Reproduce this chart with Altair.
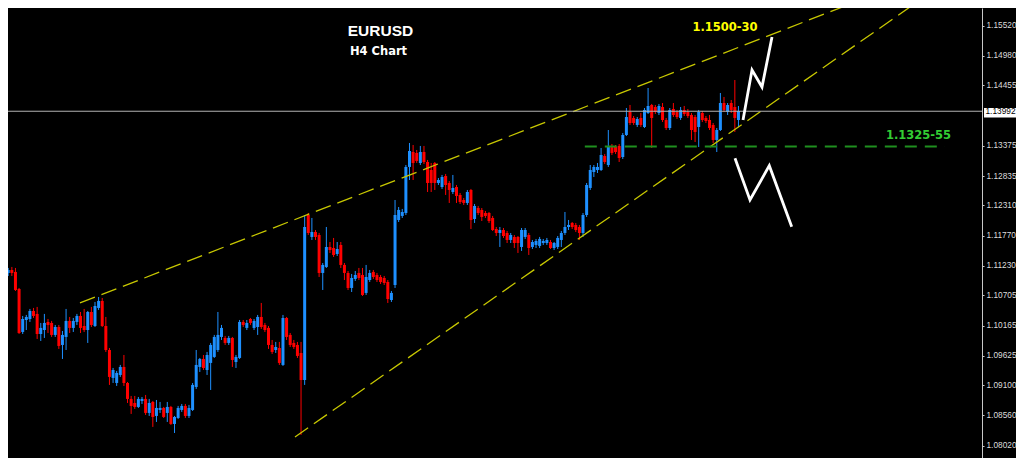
import altair as alt
import pandas as pd

# ---------------- EURUSD H4 candles ----------------
opens = [
    1.11014, 1.11264, 1.11104, 1.11157, 1.11122, 1.10818, 1.10050, 1.10264, 1.10282, 1.10425,
    1.10372, 1.10014, 1.10085, 1.10229, 1.10211, 1.09997, 1.10139, 1.09818, 1.09961, 1.10247,
    1.10122, 1.10229, 1.10336, 1.10157, 1.10085, 1.10407, 1.10157, 1.10479, 1.10604, 1.10157,
    1.09728, 1.09229, 1.09139, 1.09282, 1.09425, 1.09139, 1.08854, 1.08782, 1.08711, 1.08818,
    1.08854, 1.08604, 1.08800, 1.08550, 1.08657, 1.08693, 1.08604, 1.08711, 1.08407, 1.08514,
    1.08657, 1.08729, 1.08550, 1.08657, 1.09068, 1.09425, 1.09568, 1.09371, 1.09497, 1.09604,
    1.09728, 1.09961, 1.09943, 1.09854, 1.09943, 1.09514, 1.09586, 1.10229, 1.10122, 1.10282,
    1.10122, 1.10139, 1.10318, 1.10175, 1.10122, 1.09818, 1.09728, 1.09764, 1.09461, 1.10300,
    1.09997, 1.09854, 1.09818, 1.09675, 1.09192, 1.12139, 1.11747, 1.11836, 1.11782, 1.11104,
    1.11211, 1.11568, 1.11550, 1.11443, 1.11604, 1.11247, 1.11104, 1.10836, 1.10997, 1.11104,
    1.11068, 1.10747, 1.10978, 1.11122, 1.11068, 1.11032, 1.11014, 1.10943, 1.10621, 1.10889,
    1.12050, 1.12122, 1.12175, 1.12997, 1.13264, 1.13247, 1.13068, 1.13264, 1.13086, 1.12943,
    1.13068, 1.12711, 1.12639, 1.12836, 1.12711, 1.12550, 1.12639, 1.12497, 1.12407, 1.12354,
    1.12586, 1.12068, 1.12264, 1.12229, 1.12175, 1.12175, 1.12086, 1.11889, 1.11818, 1.11871,
    1.11818, 1.11693, 1.11747, 1.11747, 1.11568, 1.11747, 1.11782, 1.11568, 1.11604, 1.11586,
    1.11639, 1.11639, 1.11657, 1.11550, 1.11568, 1.11693, 1.11818, 1.11925, 1.11997, 1.11961,
    1.11925, 1.11818, 1.12139, 1.12622, 1.12907, 1.12943, 1.12943, 1.13193, 1.13032, 1.13372,
    1.13354, 1.13372, 1.13175, 1.13568, 1.13979, 1.13872, 1.13747, 1.13872, 1.13711, 1.13961,
    1.14104, 1.14068, 1.13961, 1.14068, 1.13836, 1.13693, 1.14032, 1.13979, 1.13872, 1.14015,
    1.13979, 1.13925, 1.13889, 1.13711, 1.13961, 1.13872, 1.13836, 1.13747, 1.13479, 1.13657,
    1.14139, 1.13979, 1.14139, 1.14068, 1.13836,
]
highs = [
    1.11372, 1.11372, 1.11193, 1.11211, 1.11193, 1.10836, 1.10336, 1.10354, 1.10461, 1.10479,
    1.10497, 1.10211, 1.10372, 1.10282, 1.10247, 1.10175, 1.10175, 1.10068, 1.10461, 1.10318,
    1.10300, 1.10372, 1.10407, 1.10461, 1.10425, 1.10497, 1.10586, 1.10675, 1.10657, 1.10318,
    1.09764, 1.09407, 1.09354, 1.09461, 1.09639, 1.09157, 1.08907, 1.08907, 1.08889, 1.08889,
    1.08925, 1.08854, 1.08818, 1.08835, 1.08800, 1.08711, 1.08800, 1.08729, 1.08550, 1.08729,
    1.08764, 1.08764, 1.08747, 1.09139, 1.09728, 1.09586, 1.09639, 1.09693, 1.09854, 1.09997,
    1.10407, 1.10175, 1.09979, 1.09979, 1.09961, 1.09639, 1.10264, 1.10264, 1.10264, 1.10300,
    1.10282, 1.10354, 1.10568, 1.10211, 1.10157, 1.09907, 1.09872, 1.09872, 1.10354, 1.10318,
    1.10032, 1.09907, 1.09872, 1.09872, 1.12139, 1.12175, 1.12086, 1.11871, 1.11818, 1.11282,
    1.11925, 1.11657, 1.11729, 1.11657, 1.11657, 1.11282, 1.11139, 1.11086, 1.11139, 1.11193,
    1.11193, 1.11247, 1.11157, 1.11157, 1.11104, 1.11068, 1.11050, 1.10978, 1.10782, 1.12407,
    1.12282, 1.12247, 1.13032, 1.13425, 1.13389, 1.13300, 1.13372, 1.13372, 1.13122, 1.13068,
    1.13086, 1.12800, 1.12854, 1.12872, 1.12746, 1.12854, 1.12675, 1.12532, 1.12443, 1.12586,
    1.12604, 1.12336, 1.12300, 1.12264, 1.12211, 1.12193, 1.12122, 1.11925, 1.11925, 1.11907,
    1.11854, 1.11818, 1.11782, 1.11764, 1.11907, 1.11907, 1.11818, 1.11693, 1.11711, 1.11747,
    1.11711, 1.11729, 1.11693, 1.11657, 1.11764, 1.11854, 1.12193, 1.12050, 1.12014, 1.11997,
    1.11961, 1.12175, 1.12711, 1.13032, 1.13032, 1.13068, 1.13336, 1.13229, 1.13657, 1.13407,
    1.13389, 1.13407, 1.13604, 1.14050, 1.14104, 1.13907, 1.13889, 1.13961, 1.14050, 1.14407,
    1.14122, 1.14104, 1.14122, 1.14139, 1.13872, 1.14050, 1.14139, 1.14015, 1.14068, 1.14086,
    1.14032, 1.13961, 1.13925, 1.14015, 1.13997, 1.13907, 1.13925, 1.13782, 1.13693, 1.14318,
    1.14247, 1.14139, 1.14193, 1.14550, 1.14086,
]
lows = [
    1.10764, 1.11211, 1.11050, 1.11050, 1.10782, 1.10014, 1.10014, 1.10085, 1.10229, 1.10300,
    1.09925, 1.09889, 1.09943, 1.10032, 1.09961, 1.09961, 1.09747, 1.09568, 1.09728, 1.10032,
    1.10050, 1.10175, 1.10032, 1.10050, 1.09854, 1.10139, 1.10139, 1.10443, 1.10139, 1.09693,
    1.09104, 1.09139, 1.09086, 1.09247, 1.09086, 1.08782, 1.08586, 1.08675, 1.08693, 1.08764,
    1.08568, 1.08550, 1.08354, 1.08443, 1.08604, 1.08514, 1.08443, 1.08389, 1.08246, 1.08497,
    1.08622, 1.08514, 1.08514, 1.08639, 1.09032, 1.09336, 1.09371, 1.09282, 1.09014, 1.09586,
    1.09693, 1.09907, 1.09818, 1.09818, 1.09425, 1.09407, 1.09568, 1.10139, 1.10085, 1.10175,
    1.10085, 1.09997, 1.10104, 1.10050, 1.09747, 1.09657, 1.09675, 1.09461, 1.09443, 1.09907,
    1.09782, 1.09747, 1.09586, 1.08211, 1.09104, 1.11782, 1.11693, 1.11693, 1.11032, 1.10800,
    1.11193, 1.11461, 1.11389, 1.11407, 1.11193, 1.10978, 1.10800, 1.10764, 1.10961, 1.10978,
    1.10693, 1.10711, 1.10943, 1.10997, 1.10943, 1.10907, 1.10889, 1.10568, 1.10586, 1.10836,
    1.12014, 1.12086, 1.12139, 1.12764, 1.12764, 1.13068, 1.13032, 1.13050, 1.12550, 1.12550,
    1.12586, 1.12675, 1.12604, 1.12497, 1.12354, 1.12514, 1.12354, 1.12336, 1.12318, 1.12318,
    1.11889, 1.11997, 1.12139, 1.12032, 1.12086, 1.11997, 1.11854, 1.11764, 1.11568, 1.11729,
    1.11639, 1.11639, 1.11550, 1.11461, 1.11497, 1.11711, 1.11425, 1.11532, 1.11550, 1.11550,
    1.11604, 1.11604, 1.11532, 1.11514, 1.11532, 1.11568, 1.11782, 1.11871, 1.11889, 1.11836,
    1.11693, 1.11747, 1.12104, 1.12586, 1.12818, 1.12889, 1.12925, 1.13050, 1.12997, 1.13211,
    1.13229, 1.13086, 1.13139, 1.13550, 1.13747, 1.13747, 1.13711, 1.13711, 1.13693, 1.13943,
    1.13336, 1.13943, 1.13925, 1.13800, 1.13657, 1.13657, 1.13889, 1.13854, 1.13836, 1.13907,
    1.13872, 1.13479, 1.13443, 1.13354, 1.13800, 1.13782, 1.13657, 1.13425, 1.13264, 1.13639,
    1.13979, 1.13925, 1.13961, 1.13622, 1.13711,
]
closes = [
    1.11336, 1.11318, 1.11157, 1.11104, 1.10800, 1.10032, 1.10282, 1.10318, 1.10425, 1.10336,
    1.10014, 1.10122, 1.10211, 1.10175, 1.09997, 1.10139, 1.09800, 1.09997, 1.10247, 1.10122,
    1.10247, 1.10336, 1.10122, 1.10085, 1.10407, 1.10175, 1.10514, 1.10604, 1.10157, 1.09728,
    1.09247, 1.09371, 1.09318, 1.09425, 1.09139, 1.08854, 1.08729, 1.08711, 1.08854, 1.08854,
    1.08604, 1.08782, 1.08532, 1.08693, 1.08693, 1.08532, 1.08711, 1.08407, 1.08532, 1.08693,
    1.08729, 1.08550, 1.08693, 1.09104, 1.09461, 1.09568, 1.09407, 1.09639, 1.09818, 1.09961,
    1.09997, 1.10122, 1.09854, 1.09943, 1.09550, 1.09604, 1.10229, 1.10175, 1.10211, 1.10211,
    1.10247, 1.10318, 1.10139, 1.10085, 1.09818, 1.09693, 1.09782, 1.09497, 1.10300, 1.09961,
    1.09818, 1.09782, 1.09622, 1.09192, 1.11925, 1.11818, 1.11836, 1.11747, 1.11104, 1.11247,
    1.11568, 1.11514, 1.11425, 1.11532, 1.11247, 1.11104, 1.10836, 1.11014, 1.11068, 1.11014,
    1.10711, 1.11032, 1.11104, 1.11032, 1.10978, 1.10943, 1.10925, 1.10639, 1.10747, 1.12139,
    1.12229, 1.12193, 1.12997, 1.13282, 1.13068, 1.13104, 1.13264, 1.13086, 1.12711, 1.12711,
    1.12711, 1.12764, 1.12818, 1.12675, 1.12586, 1.12622, 1.12479, 1.12372, 1.12354, 1.12550,
    1.12050, 1.12300, 1.12175, 1.12104, 1.12122, 1.12032, 1.11871, 1.11818, 1.11871, 1.11764,
    1.11693, 1.11782, 1.11639, 1.11639, 1.11871, 1.11871, 1.11550, 1.11657, 1.11675, 1.11711,
    1.11675, 1.11693, 1.11550, 1.11639, 1.11729, 1.11818, 1.11925, 1.11961, 1.11925, 1.11871,
    1.11818, 1.12139, 1.12675, 1.12943, 1.12997, 1.12997, 1.13211, 1.13086, 1.13354, 1.13247,
    1.13264, 1.13157, 1.13568, 1.13889, 1.13782, 1.13782, 1.13854, 1.13747, 1.14015, 1.14086,
    1.13872, 1.13979, 1.14086, 1.13836, 1.13693, 1.14015, 1.13925, 1.13889, 1.14015, 1.13943,
    1.13907, 1.13657, 1.13622, 1.13979, 1.13836, 1.13818, 1.13693, 1.13479, 1.13657, 1.14139,
    1.14015, 1.14104, 1.14015, 1.13872, 1.13997,
]
bar_index = list(range(1, len(opens) + 1))

# price axis labels (1.13915 sits under the current-price tag)
tick_values = [1.15520, 1.14980, 1.14455, 1.13375, 1.12835, 1.12310, 1.11770,
               1.11230, 1.10705, 1.10165, 1.09625, 1.09100, 1.08560, 1.08020]
last_price = 1.13992

# trend lines (bar index, price)
trend_names = ["upper", "upper", "lower", "lower"]
trend_bars = [22.85, 253.0, 82.33, 263.13]
trend_prices = [1.10568, 1.16336, 1.08175, 1.16336]

# support zone line
zone_bars = [162.5, 262.1]
zone_prices = [1.13363, 1.13363]

# projected paths
path_names = ["bull"] * 4 + ["bear"] * 4
path_order = [0, 1, 2, 3, 0, 1, 2, 3]
path_bars = [206.26, 208.75, 211.51, 214.28, 204.04, 208.19, 213.53, 219.73]
path_prices = [1.13836, 1.14729, 1.14425, 1.15318, 1.13152, 1.12407, 1.13020, 1.11930]

# ---------------- chart ----------------
candles = pd.DataFrame({"bar": bar_index, "open": opens, "high": highs,
                        "low": lows, "close": closes})
candles["trend"] = ["up" if c > o else "down" for o, c in zip(opens, closes)]

X = alt.Scale(domain=[2.936, 272.37], nice=False, zero=False, padding=0)
Y = alt.Scale(domain=[1.07799, 1.15836], nice=False, zero=False, padding=0)
COL = alt.Scale(domain=["up", "down"], range=["#1e90ff", "#ff0000"])

yaxis = alt.Axis(orient="right", values=tick_values, format=".5f", grid=False,
                 domainColor="#c8c8c8", tickColor="#c8c8c8", labelColor="#dcdcdc",
                 labelFont="Liberation Sans", labelFontSize=8.3, tickSize=2,
                 labelPadding=2, title=None, labelOverlap=False)


def xe(field):
    return alt.X(field, scale=X, axis=None)


def ye(field):
    return alt.Y(field, scale=Y, axis=yaxis)


base = alt.Chart(candles)
wicks = base.mark_rule(strokeWidth=1, clip=True).encode(
    x=xe("bar:Q"), y=ye("low:Q"), y2="high:Q",
    color=alt.Color("trend:N", scale=COL, legend=None),
)
bodies = base.mark_bar(width=3, clip=True).encode(
    x=xe("bar:Q"), y=ye("open:Q"), y2="close:Q",
    color=alt.Color("trend:N", scale=COL, legend=None),
)

trend_df = pd.DataFrame({"line": trend_names, "bar": trend_bars, "price": trend_prices})
trends = alt.Chart(trend_df).mark_line(color="#c8c800", strokeWidth=1.3,
                                       strokeDash=[16, 7], clip=True).encode(
    x=xe("bar:Q"), y=ye("price:Q"), detail="line:N",
)

zone_df = pd.DataFrame({"bar": zone_bars, "price": zone_prices})
zone = alt.Chart(zone_df).mark_line(color="#1f8f1f", strokeWidth=2,
                                    strokeDash=[12, 8], clip=True).encode(
    x=xe("bar:Q"), y=ye("price:Q"),
)

price_line = alt.Chart(pd.DataFrame({"price": [last_price]})).mark_rule(
    color="#b4b4b4", strokeWidth=1).encode(y=ye("price:Q"))

path_df = pd.DataFrame({"path": path_names, "o": path_order,
                        "bar": path_bars, "price": path_prices})
paths = alt.Chart(path_df).mark_line(color="white", strokeWidth=2.8,
                                     strokeJoin="miter", clip=True).encode(
    x=xe("bar:Q"), y=ye("price:Q"), detail="path:N", order="o:Q",
)


def label(text, bar, price, color, size, font):
    d = pd.DataFrame({"t": [text], "bar": [bar], "price": [price]})
    return alt.Chart(d).mark_text(color=color, fontSize=size, font=font,
                                  fontWeight="bold", align="center",
                                  baseline="alphabetic").encode(
        x=xe("bar:Q"), y=ye("price:Q"), text="t:N")


t1 = label("EURUSD", 105.98, 1.15327, "white", 15.5, "Liberation Sans")
t2 = label("H4 Chart", 105.43, 1.14997, "white", 11.5, "DejaVu Sans")
t3 = label("1.1500-30", 201.28, 1.15425, "#ffff00", 11.5, "DejaVu Sans")
t4 = label("1.1325-55", 254.81, 1.13497, "#33cc33", 11.5, "DejaVu Sans")

tag_df = pd.DataFrame({"x1": [272.93], "x2": [281.78], "y1": [1.13880], "y2": [1.14050],
                       "t": ["1.13992"], "tx": [273.34], "ty": [1.13970]})
tag_box = alt.Chart(tag_df).mark_rect(color="#ffffff", opacity=1, clip=False).encode(
    x=xe("x1:Q"), x2="x2:Q", y=ye("y1:Q"), y2="y2:Q")
tag_text = alt.Chart(tag_df).mark_text(color="black", fontSize=8.3, font="Liberation Sans",
                                       align="left", baseline="middle", clip=False).encode(
    x=xe("tx:Q"), y=ye("ty:Q"), text="t:N")

chart = alt.layer(
    wicks, bodies, trends, zone, price_line, paths, t1, t2, t3, t4, tag_box, tag_text
).properties(
    width=974, height=450,
    autosize=alt.AutoSizeParams(type="none"),
    padding={"left": 0, "top": 0, "right": 34, "bottom": 0},
    background="#000000",
).configure_view(stroke=None)

chart.save("out.html", embed_options={"renderer": "svg", "actions": False})
